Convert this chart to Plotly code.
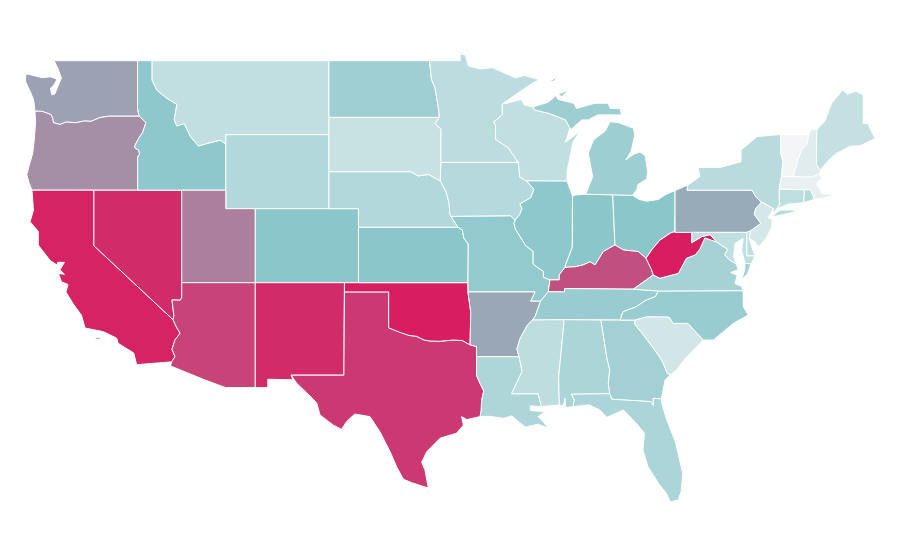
import plotly.graph_objects as go
from plotly.colors import sample_colorscale

# shared borders, (lon, lat)
COLUMBIA = [(-124.0, 46.27), (-123.5, 46.26), (-123.2, 46.15), (-122.9, 46.08), (-122.8, 45.9), (-122.75, 45.65),
            (-122.3, 45.55), (-121.9, 45.68), (-121.2, 45.65), (-120.65, 45.74), (-120.2, 45.72), (-119.6, 45.92),
            (-119.0, 46.0), (-116.92, 46.0)]
SNAKE = [(-116.92, 46.0), (-116.47, 45.65), (-116.7, 45.1), (-116.85, 44.95), (-117.2, 44.45), (-117.24, 44.3),
         (-116.95, 44.15), (-116.9, 43.95), (-117.03, 43.8), (-117.03, 42.0)]
ID_MT = [(-116.05, 49.0), (-116.05, 47.95), (-115.72, 47.4), (-115.05, 46.97), (-114.37, 46.64), (-114.55, 45.8),
         (-114.37, 45.47), (-113.87, 45.6), (-113.45, 44.9), (-112.9, 44.39), (-112.3, 44.53), (-111.44, 44.7),
         (-111.05, 44.5)]
CA_AZ = [(-114.72, 32.72), (-114.5, 33.0), (-114.7, 33.4), (-114.5, 33.9), (-114.15, 34.27), (-114.4, 34.6),
         (-114.63, 35.0)]
NV_AZ = [(-114.63, 35.0), (-114.57, 35.2), (-114.7, 36.07), (-114.14, 36.05), (-114.04, 36.2), (-114.04, 37.0)]
RED_RIVER = [(-100.0, 34.56), (-99.5, 34.4), (-99.2, 34.3), (-98.6, 34.15), (-98.1, 34.1), (-97.6, 33.9),
             (-97.2, 33.85), (-96.6, 33.83), (-95.6, 33.9), (-95.0, 33.87), (-94.48, 33.64)]
SABINE = [(-94.04, 31.99), (-93.8, 31.55), (-93.55, 31.15), (-93.7, 30.6), (-93.72, 30.1), (-93.8, 29.76)]
SD_IA = [(-96.45, 43.5), (-96.5, 42.5)]
NE_IA = [(-96.5, 42.5), (-96.1, 41.9), (-95.9, 41.3), (-95.85, 40.7), (-95.77, 40.58)]
NE_MO = [(-95.77, 40.58), (-95.3, 40.0)]
KS_MO = [(-95.3, 40.0), (-95.0, 39.85), (-94.9, 39.4), (-94.6, 39.1), (-94.62, 37.0)]
MISS_MN_WI = [(-92.29, 46.07), (-92.87, 45.7), (-92.75, 45.5), (-92.75, 44.75), (-91.9, 44.3), (-91.2, 43.5)]
MISS_IA_WI = [(-91.2, 43.5), (-91.1, 42.7), (-90.64, 42.5)]
MISS_IA_IL = [(-90.64, 42.5), (-90.15, 42.05), (-90.35, 41.6), (-91.1, 41.25), (-90.95, 41.0), (-91.1, 40.7),
              (-91.42, 40.38)]
MISS_MO_IL = [(-91.42, 40.38), (-91.5, 40.2), (-91.4, 39.9), (-90.7, 39.0), (-90.2, 38.7), (-90.2, 38.0),
              (-89.5, 37.6), (-89.5, 37.3), (-89.06, 37.15)]
MISS_MO_KY = [(-89.06, 37.15), (-89.17, 36.51)]
MISS_MO_TN = [(-89.17, 36.51), (-89.7, 36.0)]
MISS_AR_TN = [(-89.7, 36.0), (-90.05, 35.2), (-90.24, 34.98)]
MISS_AR_MS = [(-90.24, 34.98), (-90.6, 34.7), (-91.1, 33.95), (-91.3, 33.4), (-91.15, 33.0)]
MISS_LA_MS = [(-91.15, 33.0), (-90.95, 32.2), (-91.66, 31.0)]
OHIO_IL_KY = [(-89.06, 37.15), (-88.43, 37.15), (-88.43, 37.42), (-88.04, 37.83)]
OHIO_IN_KY = [(-88.04, 37.83), (-87.36, 37.86), (-86.8, 37.96), (-86.34, 38.13), (-86.0, 37.96), (-85.44, 38.68),
              (-84.65, 39.04)]
OHIO_OH_KY = [(-84.65, 39.04), (-84.08, 38.77), (-83.07, 38.68), (-82.54, 38.32)]
OHIO_OH_WV = [(-82.54, 38.32), (-82.16, 38.77), (-81.6, 39.3), (-80.85, 39.7), (-80.57, 39.76), (-80.57, 40.57)]
WABASH = [(-87.53, 39.35), (-87.55, 38.9), (-87.98, 38.0), (-88.04, 37.83)]
KY_WV = [(-82.54, 38.32), (-82.16, 37.69), (-82.05, 37.42)]
WV_VA = [(-82.05, 37.42), (-81.6, 37.24), (-80.35, 37.5), (-79.8, 38.32), (-79.2, 38.5), (-78.9, 38.8),
         (-78.55, 39.42), (-78.1, 39.3), (-77.75, 39.2)]
WV_MD = [(-77.75, 39.2), (-78.2, 39.6), (-78.76, 39.49), (-79.44, 39.16), (-79.44, 39.72)]
VA_MD = [(-77.75, 39.2), (-77.0, 38.8), (-77.2, 38.5), (-76.9, 38.25), (-76.4, 38.0)]
TN_NC = [(-81.7, 36.55), (-81.9, 36.25), (-82.6, 36.03), (-83.2, 35.7), (-84.1, 35.43), (-84.3, 34.98)]
SC_GA = [(-83.3, 34.98), (-83.3, 34.75), (-82.8, 34.26), (-81.8, 33.2), (-81.4, 32.7), (-81.1, 32.1), (-80.87, 32.03)]
NC_SC = [(-78.65, 33.9), (-79.7, 34.8), (-80.7, 34.8), (-80.93, 35.1), (-81.05, 35.15), (-82.5, 35.16), (-83.3, 34.98)]
AL_GA = [(-85.6, 34.98), (-85.18, 32.87), (-85.0, 32.3), (-85.1, 31.55), (-85.0, 31.0)]
GA_FL = [(-85.0, 31.0), (-84.86, 30.7), (-82.2, 30.57), (-82.05, 30.36), (-82.05, 30.75), (-81.5, 30.72)]
PA_NJ = [(-74.7, 41.36), (-75.1, 41.0), (-75.2, 40.7), (-74.75, 40.2), (-75.45, 39.8)]
NY_PA = [(-79.7, 42.28), (-79.76, 42.0), (-75.35, 42.0), (-75.05, 41.6), (-74.7, 41.36)]
VT_NH = [(-71.5, 45.01), (-71.6, 44.5), (-71.98, 44.17), (-72.3, 43.47), (-72.55, 42.73)]
NY_VT = [(-73.4, 45.01), (-73.4, 44.0), (-73.25, 43.55), (-73.35, 42.75)]


def rev(part):
    return part[::-1]


WA = [(-117.04, 49.0), (-122.7, 49.0), (-122.45, 48.6), (-122.2, 48.05), (-122.4, 47.7), (-122.65, 47.2),
      (-122.85, 47.15), (-122.95, 47.5), (-122.7, 47.7), (-122.5, 48.0), (-122.95, 48.13), (-123.5, 48.08),
      (-124.6, 48.3), (-124.65, 47.9), (-124.3, 47.3), (-124.1, 46.9), (-124.05, 46.65)] + COLUMBIA + \
     [(-117.04, 46.4)]
OR = rev(COLUMBIA) + [(-123.95, 45.7), (-124.05, 44.7), (-124.15, 44.0), (-124.4, 43.3), (-124.55, 42.85),
                      (-124.4, 42.4), (-124.2, 42.0), (-117.03, 42.0)] + rev(SNAKE)
CA = [(-120.0, 42.0), (-124.2, 42.0), (-124.1, 40.93), (-124.33, 40.3), (-123.77, 39.76), (-123.77, 39.03),
      (-122.97, 38.2), (-122.5, 37.95), (-122.45, 38.1), (-122.0, 38.1), (-122.3, 37.7), (-122.0, 37.45),
      (-122.4, 37.5), (-122.2, 37.05), (-121.75, 36.9), (-121.9, 36.5), (-121.4, 35.85), (-120.85, 35.25),
      (-120.6, 34.55), (-119.35, 34.35), (-118.45, 34.0), (-118.35, 33.72), (-117.3, 33.2), (-117.1, 32.57)] + \
     CA_AZ + [(-120.0, 39.0)]
CA_ISLAND = [(-119.9, 34.02), (-119.55, 34.02), (-119.55, 33.95), (-119.9, 33.95)]
NV = [(-120.0, 42.0), (-120.0, 39.0)] + NV_AZ + [(-114.04, 42.0)]
ID = rev(SNAKE) + [(-117.04, 46.4), (-117.04, 49.0)] + ID_MT + [(-111.05, 42.0)]
MT = ID_MT + [(-111.05, 45.0), (-104.05, 45.0), (-104.05, 49.0)]
WY = [(-111.05, 45.0), (-104.05, 45.0), (-104.05, 41.0), (-111.05, 41.0)]
UT = [(-114.04, 42.0), (-111.05, 42.0), (-111.05, 41.0), (-109.05, 41.0), (-109.05, 37.0), (-114.04, 37.0)]
CO = [(-109.05, 41.0), (-102.05, 41.0), (-102.05, 37.0), (-109.05, 37.0)]
AZ = [(-114.04, 37.0), (-109.05, 37.0), (-109.05, 31.33), (-111.07, 31.33), (-112.46, 31.74), (-114.8, 32.5)] + \
     CA_AZ + NV_AZ
NM = [(-109.05, 37.0), (-103.0, 37.0), (-103.04, 32.0), (-106.62, 32.0), (-106.5, 31.75), (-108.2, 31.78),
      (-108.2, 31.33), (-109.05, 31.33)]
TX = [(-103.0, 36.5), (-100.0, 36.5)] + RED_RIVER + [(-94.04, 33.55), (-94.04, 33.0)] + SABINE + \
     [(-94.7, 29.6), (-95.05, 29.76), (-94.93, 29.3), (-95.4, 28.86), (-96.5, 28.6), (-97.42, 27.86), (-97.76, 27.3),
      (-97.54, 26.88), (-97.31, 25.9), (-98.33, 26.16), (-99.0, 26.37), (-99.46, 27.05), (-99.9, 27.86),
      (-100.6, 28.95), (-101.27, 29.76), (-102.3, 29.9), (-102.85, 29.5), (-103.2, 29.07), (-103.75, 29.3),
      (-104.66, 29.85), (-104.88, 30.5), (-105.34, 30.88), (-106.24, 31.56), (-106.62, 32.0), (-103.04, 32.0)]
OK = [(-103.0, 37.0), (-94.62, 37.0), (-94.62, 36.5), (-94.43, 35.4)] + rev(RED_RIVER) + [(-100.0, 36.5), (-103.0, 36.5)]
KS = [(-102.05, 40.0)] + KS_MO + [(-102.05, 37.0)]
NE = [(-104.05, 43.0), (-98.5, 43.0), (-98.0, 42.77), (-97.3, 42.85)] + NE_IA + NE_MO + \
     [(-102.05, 40.0), (-102.05, 41.0), (-104.05, 41.0)]
SD = [(-104.05, 45.94), (-96.56, 45.94), (-96.85, 45.6), (-96.45, 45.3)] + SD_IA + \
     [(-97.3, 42.85), (-98.0, 42.77), (-98.5, 43.0), (-104.05, 43.0)]
ND = [(-104.05, 49.0), (-97.23, 49.0), (-97.1, 48.0), (-96.85, 47.5), (-96.6, 46.3), (-96.56, 45.94), (-104.05, 45.94)]
MN = [(-97.23, 49.0), (-95.15, 49.0), (-95.15, 49.38), (-94.8, 49.3), (-94.6, 48.72), (-93.8, 48.55), (-92.95, 48.62),
      (-92.0, 48.3), (-91.4, 48.07), (-90.8, 48.2), (-89.8, 47.98), (-90.6, 47.6), (-91.3, 47.2), (-92.15, 46.7),
      (-92.29, 46.66)] + MISS_MN_WI + [(-96.45, 43.5), (-96.45, 45.3), (-96.85, 45.6), (-96.56, 45.94), (-96.6, 46.3),
                                       (-96.85, 47.5), (-97.1, 48.0)]
IA = [(-96.45, 43.5)] + MISS_IA_WI + MISS_IA_IL + [(-91.73, 40.61)] + rev(NE_IA)
MO = [(-95.77, 40.58), (-91.73, 40.61)] + MISS_MO_IL + MISS_MO_KY + MISS_MO_TN + \
     [(-90.37, 36.0), (-90.07, 36.5), (-94.62, 36.5)] + rev(KS_MO) + rev(NE_MO)
AR = [(-94.62, 36.5), (-90.07, 36.5), (-90.37, 36.0)] + MISS_AR_TN + MISS_AR_MS + \
     [(-94.04, 33.0), (-94.04, 33.55), (-94.48, 33.64), (-94.43, 35.4)]
LA = [(-94.04, 33.0), (-91.15, 33.0)] + MISS_LA_MS + \
     [(-89.85, 31.0), (-89.85, 30.93), (-89.62, 30.3), (-89.75, 30.3), (-90.4, 30.35), (-90.4, 30.1), (-89.85, 30.05),
      (-89.4, 30.05), (-89.85, 29.76), (-89.62, 29.58), (-89.17, 29.13), (-89.85, 29.35), (-90.75, 29.2),
      (-91.65, 29.8), (-92.2, 29.67), (-93.2, 29.78)] + rev(SABINE)
WI = [(-92.29, 46.66), (-92.0, 46.7), (-91.0, 46.9), (-90.8, 46.6), (-90.2, 46.5), (-90.12, 46.34), (-89.1, 46.14),
      (-88.0, 45.8), (-87.7, 45.35), (-88.0, 44.6), (-87.0, 45.2), (-87.5, 44.6), (-87.6, 44.17), (-87.9, 43.0),
      (-87.9, 42.49)] + rev(MISS_IA_WI) + rev(MISS_MN_WI)
IL = [(-90.64, 42.5), (-87.9, 42.49), (-87.53, 41.7)] + WABASH + rev(OHIO_IL_KY) + rev(MISS_MO_IL) + rev(MISS_IA_IL)
IN = [(-87.53, 41.7), (-87.2, 41.75), (-86.63, 41.78), (-84.8, 41.76)] + rev(OHIO_IN_KY) + rev(WABASH)
OH = [(-84.8, 41.76), (-83.45, 41.72), (-83.0, 41.5), (-82.5, 41.4), (-81.7, 41.5), (-81.2, 41.77), (-80.57, 41.98)] + \
     rev(OHIO_OH_WV) + rev(OHIO_OH_KY)
KY = rev(MISS_MO_KY) + OHIO_IL_KY + OHIO_IN_KY + OHIO_OH_KY + KY_WV + \
     [(-83.4, 36.65), (-88.07, 36.68), (-88.07, 36.5)]
TN = [(-89.17, 36.51), (-88.07, 36.5), (-88.07, 36.68), (-83.4, 36.65)] + TN_NC + [(-88.2, 35.0)] + rev(MISS_AR_TN)
MI_LOWER = [(-86.63, 41.78), (-84.8, 41.76), (-83.45, 41.72), (-83.15, 42.05), (-83.1, 42.3), (-82.5, 42.6),
            (-82.43, 43.0), (-82.6, 43.85), (-82.95, 44.07), (-83.35, 43.95), (-83.9, 43.65), (-83.55, 44.1),
            (-83.3, 45.0), (-83.4, 45.35), (-84.4, 45.65), (-84.98, 45.7), (-85.3, 45.2), (-85.65, 45.0),
            (-86.1, 44.72), (-86.46, 44.0), (-86.16, 42.73)]
MI_UPPER = [(-90.2, 46.5), (-89.2, 46.75), (-88.83, 46.97), (-88.72, 47.15), (-88.5, 46.9), (-88.37, 46.88),
            (-87.45, 46.7), (-87.25, 46.42), (-86.0, 46.7), (-85.1, 46.7), (-84.98, 46.42), (-84.3, 46.42),
            (-84.2, 46.07), (-85.0, 46.07), (-85.8, 46.07), (-86.46, 45.8), (-86.9, 45.8), (-87.6, 45.3),
            (-87.7, 45.35), (-88.0, 45.8), (-89.1, 46.14), (-90.12, 46.34)]
MI_KEWEENAW = [(-88.5, 47.2), (-87.77, 47.42), (-88.26, 47.05)]
MI_ISLE = [(-89.2, 47.85), (-88.6, 48.1), (-88.75, 47.9)]
MS = [(-90.24, 34.98), (-88.2, 35.0), (-88.1, 34.9), (-88.47, 31.9), (-88.42, 30.39), (-89.62, 30.3), (-89.85, 30.93),
      (-89.85, 31.0)] + rev(MISS_LA_MS) + rev(MISS_AR_MS)
AL = [(-88.2, 35.0)] + AL_GA + [(-87.6, 30.97), (-87.4, 30.65), (-87.5, 30.3), (-88.0, 30.25), (-88.04, 30.75),
                                (-88.15, 30.35), (-88.42, 30.39), (-88.47, 31.9), (-88.1, 34.9)]
GA = [(-85.6, 34.98), (-84.3, 34.98), (-83.3, 34.98)] + SC_GA[1:] + [(-81.25, 31.74), (-81.45, 31.0)] + rev(GA_FL) + \
     rev(AL_GA)
FL = [(-87.6, 30.97)] + GA_FL + [(-81.5, 30.57), (-81.15, 29.6), (-80.55, 28.4), (-80.05, 26.7), (-80.15, 25.75),
                                 (-80.35, 25.25), (-80.9, 25.15), (-81.15, 25.6), (-81.7, 26.16), (-82.4, 27.05),
                                 (-82.75, 27.96), (-82.65, 28.86), (-83.2, 29.4), (-84.08, 30.12), (-85.2, 29.72),
                                 (-85.65, 30.1), (-86.4, 30.4), (-87.5, 30.3), (-87.4, 30.65)]
SC = NC_SC + SC_GA[1:] + [(-80.45, 32.3), (-80.0, 32.8), (-79.1, 33.5)]
NC = TN_NC + [(-83.3, 34.98)] + rev(NC_SC)[1:] + [(-77.97, 33.9), (-76.62, 34.8), (-75.6, 35.25), (-75.94, 35.7),
                                                  (-75.95, 36.57)]
VA = [(-83.4, 36.65)] + WV_VA + VA_MD + [(-76.3, 37.7), (-76.8, 37.55), (-76.35, 37.4), (-76.5, 36.95), (-76.05, 36.8),
                                         (-75.95, 36.57), (-81.7, 36.55)]
VA_SHORE = [(-75.4, 38.02), (-75.83, 38.05), (-75.85, 37.7), (-76.05, 37.15), (-75.65, 37.5)]
WV = rev(OHIO_OH_WV) + KY_WV[1:] + WV_VA[1:] + WV_MD[1:] + [(-80.57, 39.72)]
PA = [(-80.57, 41.98)] + NY_PA + PA_NJ[1:] + [(-75.71, 39.72), (-79.44, 39.72), (-80.57, 39.72), (-80.57, 40.57)]
NY_MAIN = NY_PA + [(-73.9, 41.0), (-74.0, 40.75), (-73.65, 41.0), (-73.49, 41.2), (-73.5, 42.05)] + rev(NY_VT) + \
          [(-75.0, 44.9), (-76.1, 44.17), (-76.1, 43.54), (-77.5, 43.23), (-79.0, 43.23), (-78.9, 42.73)]
NY_ISLAND = [(-74.0, 40.6), (-73.45, 40.93), (-72.45, 40.93), (-71.9, 41.1), (-72.6, 40.8), (-73.7, 40.6)]
NJ = PA_NJ + [(-75.55, 39.4), (-75.15, 39.2), (-74.9, 38.93), (-74.4, 39.4), (-74.0, 40.0), (-74.0, 40.45),
              (-74.25, 40.5), (-73.9, 41.0)]
DE = [(-75.71, 39.72), (-75.45, 39.8), (-75.55, 39.4), (-75.35, 38.95), (-75.15, 38.45), (-75.71, 38.45)]
MD = [(-79.44, 39.72), (-75.71, 39.72), (-75.71, 38.45), (-75.15, 38.45), (-75.4, 38.02), (-75.83, 38.05),
      (-76.05, 38.77), (-75.95, 39.4), (-76.5, 39.13), (-76.6, 38.4)] + rev(VA_MD) + WV_MD[1:-1]
VT = [(-73.4, 45.01)] + VT_NH + rev(NY_VT)
NH = VT_NH[:1] + [(-71.3, 45.3), (-70.96, 45.25), (-70.98, 43.4), (-70.7, 43.07), (-70.82, 42.87), (-71.3, 42.7)] + \
     rev(VT_NH)
ME = [(-70.96, 45.25), (-70.4, 45.75), (-69.95, 46.7), (-69.2, 47.42), (-68.9, 47.18), (-68.3, 47.35), (-67.8, 47.15),
      (-67.8, 45.6), (-67.5, 45.6), (-67.0, 44.8), (-68.0, 44.4), (-68.7, 44.37), (-69.6, 44.0), (-70.0, 43.75),
      (-70.6, 43.2), (-70.7, 43.07), (-70.98, 43.4)]
MA = [(-73.5, 42.05), (-73.35, 42.75), (-72.55, 42.73), (-71.3, 42.7), (-70.82, 42.87), (-70.6, 42.65), (-71.0, 42.37),
      (-70.55, 41.8), (-70.0, 41.8), (-70.1, 42.05), (-69.95, 41.7), (-70.6, 41.55), (-71.12, 41.5), (-71.38, 42.02),
      (-71.8, 42.02)]
RI = [(-71.8, 42.02), (-71.38, 42.02), (-71.12, 41.5), (-71.85, 41.32)]
CT = [(-73.5, 42.05), (-71.8, 42.02), (-71.85, 41.32), (-72.9, 41.25), (-73.65, 41.0), (-73.49, 41.2)]

STATES = ["WA", "OR", "CA", "NV", "ID", "MT", "WY", "UT", "CO", "AZ", "NM", "TX", "OK", "KS", "NE", "SD", "ND", "MN",
          "IA", "MO", "AR", "LA", "WI", "IL", "IN", "OH", "KY", "TN", "MI", "MS", "AL", "GA", "FL", "SC", "NC", "VA",
          "WV", "PA", "NY", "NJ", "DE", "MD", "VT", "NH", "ME", "MA", "RI", "CT"]
VALUES = [.454, .528, .975, .942, .288, .144, .187, .594, .30, .842, .942, .888, 1.0, .30, .187, .124, .242, .158,
          .179, .276, .428, .20, .144, .288, .30, .30, .793, .262, .248, .156, .205, .233, .207, .095, .262, .222,
          1.0, .412, .167, .09, .147, .15, 0.0, .055, .133, .032, .18, .15]
OUTLINES = {"WA": [WA], "OR": [OR], "CA": [CA, CA_ISLAND], "NV": [NV], "ID": [ID], "MT": [MT], "WY": [WY], "UT": [UT],
            "CO": [CO], "AZ": [AZ], "NM": [NM], "TX": [TX], "OK": [OK], "KS": [KS], "NE": [NE], "SD": [SD], "ND": [ND],
            "MN": [MN], "IA": [IA], "MO": [MO], "AR": [AR], "LA": [LA], "WI": [WI], "IL": [IL], "IN": [IN], "OH": [OH],
            "KY": [KY], "TN": [TN], "MI": [MI_LOWER, MI_UPPER, MI_KEWEENAW, MI_ISLE], "MS": [MS], "AL": [AL], "GA": [GA],
            "FL": [FL], "SC": [SC], "NC": [NC], "VA": [VA, VA_SHORE], "WV": [WV], "PA": [PA],
            "NY": [NY_MAIN, NY_ISLAND], "NJ": [NJ], "DE": [DE], "MD": [MD], "VT": [VT], "NH": [NH], "ME": [ME],
            "MA": [MA], "RI": [RI], "CT": [CT]}

SCALE = [[0.0, "#f3f5f6"], [0.3, "#8bc6ca"], [1.0, "#d81d60"]]

fig = go.Figure()
for state, value in zip(STATES, VALUES):
    xs, ys = [], []
    for ring in OUTLINES[state]:
        xs += [p[0] for p in ring] + [ring[0][0], None]
        ys += [p[1] for p in ring] + [ring[0][1], None]
    fig.add_trace(go.Scatter(x=xs, y=ys, mode="lines", fill="toself", name=state,
                             fillcolor=sample_colorscale(SCALE, value)[0],
                             line=dict(color="white", width=1), hoverinfo="name"))

fig.update_layout(width=900, height=560, margin=dict(l=0, r=0, t=0, b=0), showlegend=False,
                  paper_bgcolor="white", plot_bgcolor="white",
                  xaxis=dict(visible=False, range=[-126.37, -65.31]),
                  yaxis=dict(visible=False, range=[22.01, 52.28]))
fig.write_html("out.html", config={"displayModeBar": False}, post_script="document.body.style.margin='0';")
